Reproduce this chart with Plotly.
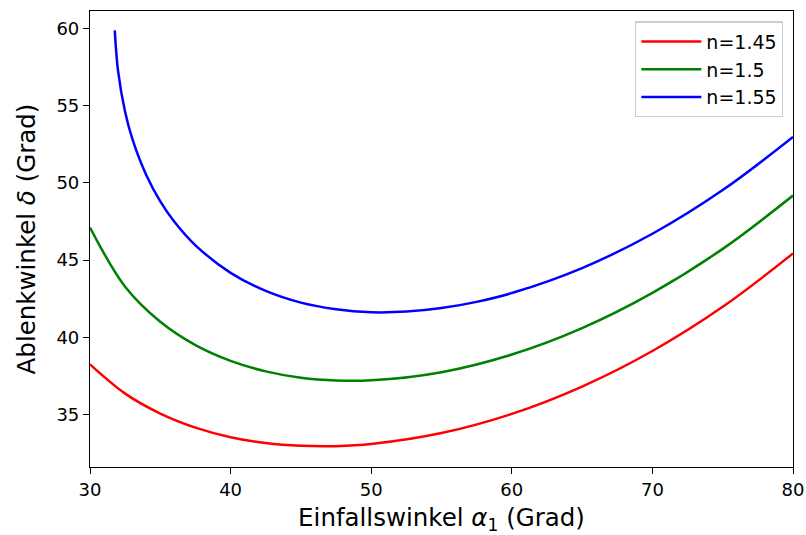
import plotly.graph_objects as go

# (incidence angle in degrees -> deviation angle in degrees)
alpha_145 = [30, 32.5, 35, 37.5, 40, 42.5, 45, 47.5, 50, 55, 60, 65, 70, 75, 80]
delta_145 = [38.24, 36.35, 35.06, 34.15, 33.53, 33.15, 32.97, 32.95, 33.09, 33.80, 35.04, 36.81, 39.11, 41.97, 45.42]

alpha_150 = [30, 32.5, 35, 37.5, 40, 42.5, 45, 47.5, 50, 55, 60, 65, 70, 75, 80]
delta_150 = [47.10, 43.27, 41.00, 39.49, 38.47, 37.79, 37.38, 37.20, 37.21, 37.74, 38.88, 40.59, 42.87, 45.72, 49.17]

alpha_155 = [31.76, 32, 32.5, 33, 34, 35, 36, 37.5, 40, 42.5, 45, 47.5, 50, 52.5, 55, 57.5, 60, 65, 70, 75, 80]
delta_155 = [59.87, 57.21, 54.58, 52.87, 50.50, 48.79, 47.47, 45.95, 44.17, 43.00, 42.24, 41.81, 41.62, 41.66, 41.89, 42.29, 42.86, 44.48, 46.70, 49.53, 52.97]

names = ["n=1.45", "n=1.5", "n=1.55"]
colors = ["red", "green", "blue"]

x_ticks = [30, 40, 50, 60, 70, 80]
y_ticks = [35, 40, 45, 50, 55, 60]

fig = go.Figure()
for xs, ys, nm, c in zip([alpha_145, alpha_150, alpha_155],
                         [delta_145, delta_150, delta_155], names, colors):
    fig.add_trace(go.Scatter(x=xs, y=ys, mode="lines", name=nm,
                             line=dict(color=c, width=2.5, shape="spline", smoothing=1.0)))

axis_common = dict(showline=True, linecolor="black", linewidth=1.2, mirror=True,
                   ticks="outside", ticklen=6, tickwidth=1.2, tickcolor="black",
                   showgrid=False, zeroline=False, automargin=False,
                   tickfont=dict(family="DejaVu Sans", size=18, color="black"))

fig.update_layout(
    width=806, height=535,
    margin=dict(l=90, r=13, t=11, b=68),
    paper_bgcolor="white", plot_bgcolor="white",
    font=dict(family="DejaVu Sans", color="black"),
    xaxis=dict(range=[30, 80], tickvals=x_ticks,
               title=dict(text="Einfallswinkel <i>α</i><sub>1</sub> (Grad)",
                          font=dict(size=24.5), standoff=12),
               **axis_common),
    yaxis=dict(range=[31.6, 61.12], tickvals=y_ticks,
               title=dict(text="Ablenkwinkel <i>δ</i> (Grad)",
                          font=dict(size=24.5), standoff=13),
               **axis_common),
    legend=dict(x=0.986, y=0.977, xanchor="right", yanchor="top",
                bgcolor="white", bordercolor="#cccccc", borderwidth=1.2,
                font=dict(family="DejaVu Sans", size=19, color="black"),
                tracegroupgap=2, itemwidth=60),
    showlegend=True,
)

fig.write_html("out.html",
               config={"displayModeBar": False},
               post_script="document.body.style.margin='0';document.body.style.overflow='hidden';")
